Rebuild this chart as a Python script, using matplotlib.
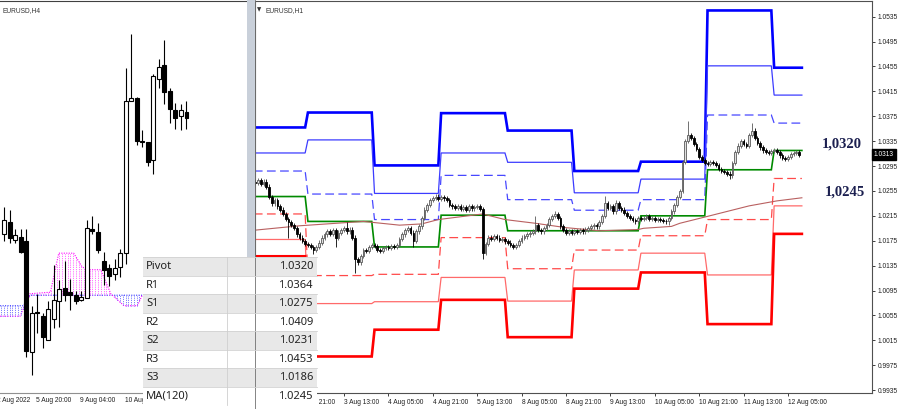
import numpy as np
import matplotlib.pyplot as plt
from matplotlib.patches import Rectangle
from matplotlib.transforms import blended_transform_factory

plt.rcParams['font.family'] = ['DejaVu Sans']

# ---------------- H4 panel (left) ----------------
h4_open = [1.0235, 1.0243, 1.0231, 1.0233, 1.0230, 1.0156, 1.0183, 1.0180, 1.0164, 1.0178,
           1.0190, 1.0199, 1.0196, 1.0194, 1.0191, 1.0192, 1.0238, 1.0236, 1.0217, 1.0212,
           1.0208, 1.0213, 1.0222, 1.0323, 1.0325, 1.0297, 1.0296, 1.0284, 1.0338, 1.0347,
           1.0330, 1.0317, 1.0313, 1.0316]
h4_close = [1.0244, 1.0232, 1.0234, 1.0223, 1.0157, 1.0182, 1.0182, 1.0166, 1.0185, 1.0191,
            1.0198, 1.0194, 1.0194, 1.0190, 1.0193, 1.0239, 1.0237, 1.0224, 1.0211, 1.0207,
            1.0212, 1.0222, 1.0323, 1.0325, 1.0297, 1.0296, 1.0283, 1.0340, 1.0346, 1.0329,
            1.0318, 1.0312, 1.0317, 1.0312]
h4_high = [1.0253, 1.0251, 1.0238, 1.0238, 1.0238, 1.0187, 1.0195, 1.0182, 1.0190, 1.0214,
           1.0204, 1.0217, 1.0205, 1.0197, 1.0197, 1.0244, 1.0247, 1.0242, 1.0223, 1.0215,
           1.0218, 1.0225, 1.0345, 1.0368, 1.0326, 1.0304, 1.0296, 1.0341, 1.0351, 1.0364,
           1.0332, 1.0322, 1.0321, 1.0323]
h4_low = [1.0230, 1.0229, 1.0229, 1.0222, 1.0153, 1.0141, 1.0169, 1.0159, 1.0164, 1.0172,
          1.0173, 1.0190, 1.0184, 1.0188, 1.0190, 1.0192, 1.0235, 1.0222, 1.0201, 1.0200,
          1.0204, 1.0206, 1.0215, 1.0323, 1.0294, 1.0293, 1.0280, 1.0275, 1.0332, 1.0321,
          1.0309, 1.0305, 1.0304, 1.0305]

cloud_blue_x = [-0.7, 3.5, 4.7, 25.0]
cloud_blue_y = [1.0187, 1.0187, 1.0194, 1.0194]
cloud_mag_x = [-0.7, 2.9, 4.7, 8.4, 9.9, 12.6, 14.1, 15.0, 17.5, 19.3, 21.7, 24.1, 25.0]
cloud_mag_y = [1.0180, 1.0180, 1.0195, 1.0196, 1.0222, 1.0222, 1.0213, 1.0211, 1.0211,
               1.0195, 1.0187, 1.0187, 1.0194]

h4_label_x = [-1.3, 5.8, 13.7, 21.9]
h4_labels = ['2 Aug 2022', '5 Aug 20:00', '9 Aug 04:00', '10 Aug 12:00']

# ---------------- H1 panel (right) ----------------
# closes from bar -16 (2 Aug 05:00) to bar 180 (12 Aug 09:00)
h1_close = [
    1.0268, 1.0272, 1.0266, 1.0270, 1.0262, 1.0245, 1.0235, 1.0240, 1.0230, 1.0225,   # -16
    1.0218, 1.0210, 1.0205, 1.0200, 1.0195, 1.0185, 1.0180, 1.0175, 1.0170, 1.0168,   # -6
    1.0165, 1.0160, 1.0165, 1.0172, 1.0180, 1.0185, 1.0190, 1.0186, 1.0192, 1.0180,   # 4
    1.0188, 1.0192, 1.0195, 1.0190, 1.0193, 1.0180, 1.0145, 1.0140, 1.0150, 1.0160,   # 14
    1.0158, 1.0165, 1.0168, 1.0166, 1.0160, 1.0158, 1.0163, 1.0165, 1.0164, 1.0166,   # 24
    1.0165, 1.0168, 1.0178, 1.0185, 1.0192, 1.0195, 1.0188, 1.0175, 1.0190, 1.0198,   # 34
    1.0212, 1.0225, 1.0232, 1.0240, 1.0244, 1.0246, 1.0242, 1.0245, 1.0243, 1.0240,   # 44
    1.0232, 1.0230, 1.0228, 1.0231, 1.0226, 1.0229, 1.0225, 1.0230, 1.0227, 1.0229,   # 54
    1.0231, 1.0226, 1.0155, 1.0170, 1.0180, 1.0178, 1.0182, 1.0180, 1.0176, 1.0178,   # 64
    1.0174, 1.0172, 1.0168, 1.0165, 1.0168, 1.0175, 1.0180, 1.0182, 1.0185, 1.0188,   # 74
    1.0190, 1.0200, 1.0192, 1.0190, 1.0195, 1.0200, 1.0210, 1.0215, 1.0218, 1.0212,   # 84
    1.0198, 1.0192, 1.0188, 1.0190, 1.0188, 1.0191, 1.0189, 1.0192, 1.0190, 1.0193,   # 94
    1.0195, 1.0198, 1.0200, 1.0198, 1.0205, 1.0215, 1.0235, 1.0228, 1.0230, 1.0222,   # 104
    1.0235, 1.0228, 1.0225, 1.0220, 1.0215, 1.0212, 1.0208, 1.0206, 1.0212, 1.0210,   # 114
    1.0212, 1.0214, 1.0210, 1.0212, 1.0208, 1.0210, 1.0208, 1.0207, 1.0206, 1.0212,   # 124
    1.0222, 1.0232, 1.0245, 1.0255, 1.0302, 1.0335, 1.0345, 1.0340, 1.0330, 1.0322,   # 134
    1.0310, 1.0305, 1.0300, 1.0298, 1.0302, 1.0300, 1.0297, 1.0290, 1.0287, 1.0285,   # 144
    1.0283, 1.0280, 1.0300, 1.0318, 1.0328, 1.0335, 1.0330, 1.0328, 1.0345, 1.0352,   # 154
    1.0340, 1.0332, 1.0325, 1.0320, 1.0318, 1.0316, 1.0319, 1.0320, 1.0318, 1.0312,   # 164
    1.0308, 1.0306, 1.0310, 1.0314, 1.0316, 1.0318, 1.0313,                           # 174
]
h1_first_bar = -16
h1_first_open = 1.0270
h1_high_marks = {17: 1.0205, 85: 1.0215, 92: 1.0222, 110: 1.0247, 114: 1.0240,
                 140: 1.0368, 163: 1.0364}
h1_low_marks = {-4: 1.0179, 5: 1.0153, 13: 1.0165, 20: 1.0123, 41: 1.0165, 66: 1.0146,
                133: 1.0200, 155: 1.0274}

# daily pivot levels: 2, 3, 4, 5, 8, 9, 10, 11, 12 Aug
day_start = [-16.5, 3, 27, 51, 75, 99, 123, 147, 171]
last_bar = 181
R3 = [1.0357, 1.0381, 1.0296, 1.0380, 1.0352, 1.0287, 1.0302, 1.0545, 1.0453]
R2 = [1.0316, 1.0337, 1.0251, 1.0316, 1.0301, 1.0252, 1.0274, 1.0456, 1.0409]
R1 = [1.0287, 1.0250, 1.0209, 1.0280, 1.0241, 1.0224, 1.0241, 1.0377, 1.0364]
PP = [1.0246, 1.0206, 1.0165, 1.0216, 1.0191, 1.0191, 1.0215, 1.0289, 1.0320]
S1 = [1.0218, 1.0119, 1.0121, 1.0180, 1.0130, 1.0160, 1.0183, 1.0209, 1.0275]
S2 = [1.0177, 1.0074, 1.0077, 1.0116, 1.0078, 1.0128, 1.0155, 1.0120, 1.0231]
S3 = [1.0150, 0.9989, 1.0032, 1.0080, 1.0020, 1.0098, 1.0124, 1.0041, 1.0186]

ma_x = [-16, 0, 23, 36, 44, 50, 66, 74, 85, 96, 108, 122, 124, 134, 137, 146, 162, 172, 181]
ma_y = [1.0192, 1.0199, 1.0206, 1.0200, 1.0202, 1.0209, 1.0218, 1.0209, 1.0203, 1.0196,
        1.0191, 1.0193, 1.0195, 1.0198, 1.0203, 1.0213, 1.0231, 1.0239, 1.0244]

price_ticks = [1.0535, 1.0495, 1.0455, 1.0415, 1.0375, 1.0335, 1.0295, 1.0255, 1.0215,
               1.0175, 1.0135, 1.0095, 1.0055, 1.0015, 0.9975, 0.9935]
time_ticks = [0, 16, 32, 48, 64, 80, 96, 112, 128, 144, 160, 176]
time_labels = ['2 Aug 21:00', '3 Aug 13:00', '4 Aug 05:00', '4 Aug 21:00', '5 Aug 13:00',
               '8 Aug 05:00', '8 Aug 21:00', '9 Aug 13:00', '10 Aug 05:00', '10 Aug 21:00',
               '11 Aug 13:00', '12 Aug 05:00']

table_names = ['Pivot', 'R1', 'S1', 'R2', 'S2', 'R3', 'S3', 'MA(120)']
table_values = [1.0320, 1.0364, 1.0275, 1.0409, 1.0231, 1.0453, 1.0186, 1.0245]

AXFONT = 'Liberation Sans'
AXSIZE = 4.8


def draw_candles(ax, xs, o, h, l, c, width, bull_face, bull_edge, lw):
    xs = np.asarray(xs, dtype=float)
    o, h, l, c = (np.asarray(v) for v in (o, h, l, c))
    bull = c >= o
    edge = np.where(bull, bull_edge, 'black')
    face = np.where(bull, bull_face, 'black')
    ax.vlines(xs, l, h, colors=edge, linewidth=lw, zorder=4)
    bottom = np.minimum(o, c)
    height = np.maximum(np.abs(c - o), 0.00004)
    ax.bar(xs, height, width=width, bottom=bottom, color=face, edgecolor=edge,
           linewidth=lw, zorder=5)


fig = plt.figure(figsize=(9, 4.09), dpi=100)
fig.patch.set_facecolor('white')

# ---- left H4 chart ----
ax4 = fig.add_axes([0, 16 / 409, 247 / 900, 392 / 409])
ax4.set_xlim(-0.723, 43.94)
ax4.set_ylim(1.01289, 1.03899)
draw_candles(ax4, np.arange(len(h4_open)), h4_open, h4_high, h4_low, h4_close,
             0.72, 'white', 'black', 0.8)
ax4.plot(cloud_blue_x, cloud_blue_y, color='#3030ff', lw=0.8, ls=(0, (1, 1.2)), zorder=2)
ax4.plot(cloud_mag_x, cloud_mag_y, color='#ff00ff', lw=0.8, ls=(0, (1, 1.2)), zorder=2)
hx = np.arange(-0.5, 25.0, 0.5)
hb = np.interp(hx, cloud_blue_x, cloud_blue_y)
hm = np.interp(hx, cloud_mag_x, cloud_mag_y)
ax4.vlines(hx, np.minimum(hb, hm), np.maximum(hb, hm),
           colors=np.where(hm > hb, '#ff40ff', '#5050ff'), lw=0.6, ls=(0, (1, 1.2)), zorder=2)
ax4.set_xticks([])
ax4.set_yticks([])
for s in ['left', 'right']:
    ax4.spines[s].set_visible(False)
ax4.spines['top'].set_color('#404040')
ax4.spines['bottom'].set_color('#909090')
ax4.text(0.012, 0.985, 'EURUSD,H4', transform=ax4.transAxes, fontsize=AXSIZE,
         family=AXFONT, color='#333333', va='top', ha='left')
xtr4 = blended_transform_factory(ax4.transData, ax4.transAxes)
for lx, lab in zip(h4_label_x, h4_labels):
    ax4.text(lx, -0.018, lab, transform=xtr4, fontsize=AXSIZE, family=AXFONT, ha='left',
             va='center', clip_on=False, color='#202020')

# ---- right H1 chart ----
ax1 = fig.add_axes([255 / 900, 16 / 409, 617 / 900, 392 / 409])
ax1.set_xlim(-16.07, 206.27)
ax1.set_ylim(0.99303, 1.05602)

levels = [(R3, '#0000ff', 1.9, '-'), (R2, '#3c3cff', 0.9, '-'),
          (R1, '#4848ff', 0.9, (0, (7, 3.5))), (PP, '#008a00', 1.2, '-'),
          (S1, '#ff4a4a', 0.9, (0, (7, 3.5))), (S2, '#ff6a6a', 0.9, '-'),
          (S3, '#ff0000', 1.9, '-')]
for vals, col, lw, ls in levels:
    xs, ys = [], []
    for k, v in enumerate(vals):
        end = day_start[k + 1] - 1 if k + 1 < len(vals) else last_bar
        xs += [day_start[k], end]
        ys += [v, v]
    ax1.plot(xs, ys, color=col, lw=lw, ls=ls, zorder=2, solid_joinstyle='miter')
ax1.plot(ma_x, ma_y, color='#b96060', lw=0.8, zorder=2)

h1_x = np.arange(h1_first_bar, h1_first_bar + len(h1_close))
h1_c = np.array(h1_close)
h1_o = np.concatenate([[h1_first_open], h1_c[:-1]])
h1_h = np.maximum(h1_o, h1_c) + 0.00035
h1_l = np.minimum(h1_o, h1_c) - 0.00035
for b, v in h1_high_marks.items():
    h1_h[b - h1_first_bar] = v
for b, v in h1_low_marks.items():
    h1_l[b - h1_first_bar] = v
draw_candles(ax1, h1_x, h1_o, h1_h, h1_l, h1_c, 0.62, '#e0e0e0', '#5a5a5a', 0.6)

ax1.yaxis.tick_right()
ax1.set_yticks(price_ticks)
ax1.set_yticklabels(['%.4f' % p for p in price_ticks], fontsize=AXSIZE, family=AXFONT)
ax1.set_xticks(time_ticks)
ax1.set_xticklabels(time_labels, fontsize=AXSIZE, family=AXFONT, ha='left')
ax1.tick_params(axis='y', length=2.5, pad=1.5, colors='#202020', width=0.6)
ax1.tick_params(axis='x', length=2.5, pad=1.5, colors='#202020', width=0.6)
for s in ax1.spines.values():
    s.set_color('#505050')
    s.set_linewidth(0.8)
ax1.text(0.004, 0.985, '\u25bc', transform=ax1.transAxes, fontsize=4, color='#333333',
         va='top', ha='left')
ax1.text(0.017, 0.985, 'EURUSD,H1', transform=ax1.transAxes, fontsize=AXSIZE,
         family=AXFONT, color='#333333', va='top', ha='left')

# level labels and current price tag
ax1.text(195.5, PP[-1] + 0.0010, ('%.4f' % PP[-1]).replace('.', ','), fontsize=10.5,
         family='Liberation Serif', weight='bold', color='#1c2050', ha='center', va='center')
ax1.text(196.5, ma_y[-1] + 0.0009, ('%.4f' % table_values[-1]).replace('.', ','),
         fontsize=10.5, family='Liberation Serif', weight='bold', color='#1c2050',
         ha='center', va='center')
ytr = blended_transform_factory(ax1.transAxes, ax1.transData)
ax1.text(1.003, h1_close[-1], '%.4f' % h1_close[-1], transform=ytr, fontsize=AXSIZE,
         family=AXFONT, color='white', ha='left', va='center', zorder=10,
         bbox=dict(boxstyle='square,pad=0.3', facecolor='black', edgecolor='black'))

# ---- overlay: panel separator and level table (pixel coords) ----
ov = fig.add_axes([0, 0, 1, 1], zorder=5)
ov.set_xlim(0, 900)
ov.set_ylim(409, 0)
ov.axis('off')
ov.add_patch(Rectangle((247, 0), 7.5, 409, facecolor='#c9d0da', edgecolor='none'))
ov.plot([254.5, 254.5], [0, 409], color='#707070', lw=0.6)

row_top, row_h, tab_x, tab_w = 257.3, 18.5, 143, 174
for k, (name, val) in enumerate(zip(table_names, table_values)):
    y0 = row_top + k * row_h
    ov.add_patch(Rectangle((tab_x, y0), tab_w, row_h,
                           facecolor='#e8e8e8' if k % 2 == 0 else 'white', edgecolor='none'))
    ov.plot([tab_x, tab_x + tab_w], [y0, y0], color='#d2d2d2', lw=0.6)
    ov.text(tab_x + 3, y0 + row_h / 2, name, fontsize=8, family='Noto Sans',
            color='#222222', va='center', ha='left')
    ov.text(tab_x + tab_w - 4, y0 + row_h / 2, '%.4f' % val, fontsize=8,
            family='Noto Sans', color='#222222', va='center', ha='right')
ov.add_patch(Rectangle((tab_x, row_top + 8 * row_h), tab_w, 409, facecolor='white',
                       edgecolor='none'))
ov.plot([227, 227], [row_top, row_top + 8 * row_h], color='#cfcfcf', lw=0.6)

fig.savefig('out.png', dpi=100)
